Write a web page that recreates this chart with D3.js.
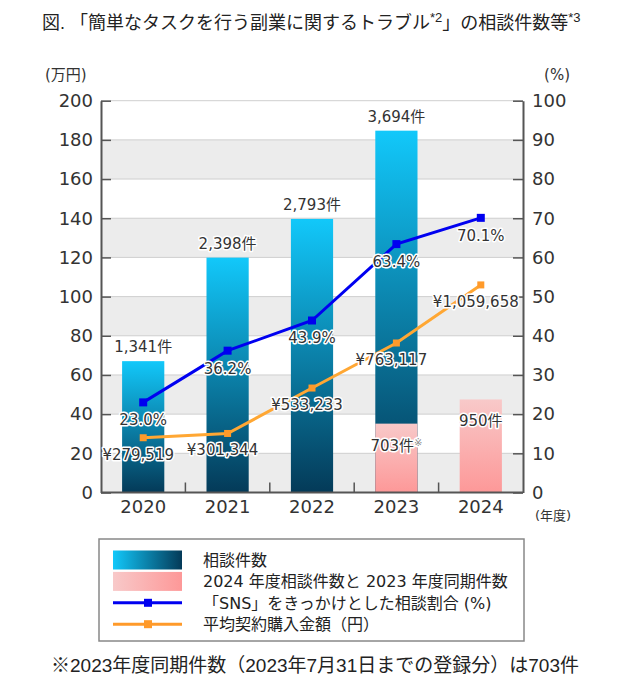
<!DOCTYPE html>
<html>
<head>
<meta charset="utf-8">
<script src="https://d3js.org/d3.v7.min.js"></script>
<style>
  body { margin: 0; background: #fff; }
  text { font-family: "DejaVu Sans", "Noto Sans CJK JP", sans-serif; fill: #333; }
  text.jp { font-family: "Liberation Sans", "Noto Sans CJK JP", sans-serif; fill: #222; }
  .tick text { font-size: 18px; fill: #333; }
  .tick line { stroke: #555; stroke-width: 1.5; }
  path.domain { stroke: #555; stroke-width: 2; }
  text.lbl { font-size: 15px; paint-order: stroke; stroke: #fff; stroke-width: 3px; stroke-linejoin: round; }
  text.leg { font-size: 16px; fill: #222; }
</style>
</head>
<body>
<script>
const width = 630, height = 694;

// data
const years = ["2020", "2021", "2022", "2023", "2024"];
const counts = [1341, 2398, 2793, 3694, null];          // 相談件数
const sameTerm = [null, null, null, 703, 950];          // 2024年度件数と2023年度同期件数
const snsShare = [23.0, 36.2, 43.9, 63.4, 70.1];        // SNS をきっかけとした割合 (%)
const avgAmount = [279519, 301344, 533233, 763117, 1059658]; // 平均契約購入金額 (円)
const leftTicks = [0, 20, 40, 60, 80, 100, 120, 140, 160, 180, 200];
const rightTicks = [0, 10, 20, 30, 40, 50, 60, 70, 80, 90, 100];

const margin = { top: 100.7, right: 107, bottom: 201.5, left: 101 };
const plotB = height - margin.bottom, plotR = width - margin.right;

const svg = d3.select("body").append("svg")
  .attr("width", width).attr("height", height);

const defs = svg.append("defs");
const gBlue = defs.append("linearGradient").attr("id", "gBlue")
  .attr("x1", 0).attr("y1", 0).attr("x2", 0).attr("y2", 1);
gBlue.append("stop").attr("offset", 0).attr("stop-color", "#12c8fa");
gBlue.append("stop").attr("offset", 1).attr("stop-color", "#043a58");
const gPink = defs.append("linearGradient").attr("id", "gPink")
  .attr("x1", 0).attr("y1", 0).attr("x2", 0).attr("y2", 1);
gPink.append("stop").attr("offset", 0).attr("stop-color", "#f8c9c9");
gPink.append("stop").attr("offset", 1).attr("stop-color", "#fd9898");
const gBlueH = defs.append("linearGradient").attr("id", "gBlueH");
gBlueH.append("stop").attr("offset", 0).attr("stop-color", "#12c8fa");
gBlueH.append("stop").attr("offset", 1).attr("stop-color", "#043a58");
const gPinkH = defs.append("linearGradient").attr("id", "gPinkH");
gPinkH.append("stop").attr("offset", 0).attr("stop-color", "#f8c9c9");
gPinkH.append("stop").attr("offset", 1).attr("stop-color", "#fd9898");

// scales
const x = d3.scaleBand().domain(years).range([margin.left, plotR])
  .paddingInner(0.5).paddingOuter(0.25);
const yL = d3.scaleLinear().domain([0, 200]).range([plotB, margin.top]);
const yCount = d3.scaleLinear().domain([0, 4000]).range([plotB, margin.top]);
const yR = d3.scaleLinear().domain([0, 100]).range([plotB, margin.top]);
const cx = d => x(d) + x.bandwidth() / 2;

// title
const title = svg.append("text").attr("class", "jp")
  .attr("x", 42).attr("y", 29).style("font-size", "18px");
title.append("tspan").text("図. 「簡単なタスクを行う副業に関するトラブル");
title.append("tspan").attr("dy", -7).style("font-size", "13px").text("*2");
title.append("tspan").attr("dy", 7).text("」の相談件数等");
title.append("tspan").attr("dy", -7).style("font-size", "13px").text("*3");

svg.append("text").attr("x", 45).attr("y", 80).style("font-size", "15px").text("(万円)");
svg.append("text").attr("x", 570).attr("y", 80).attr("text-anchor", "end")
  .style("font-size", "15px").text("(%)");

// background bands and grid
const bandTicks = leftTicks.filter((t, i) => i % 2 === 0 && t < 200);
svg.append("g").selectAll("rect").data(bandTicks).join("rect")
  .attr("x", margin.left).attr("width", plotR - margin.left)
  .attr("y", d => yL(d + 20)).attr("height", d => yL(d) - yL(d + 20))
  .attr("fill", "#ececec");
svg.append("g").selectAll("line").data(leftTicks.slice(1)).join("line")
  .attr("x1", margin.left).attr("x2", plotR)
  .attr("y1", d => yL(d)).attr("y2", d => yL(d))
  .attr("stroke", "#cfcfcf").attr("stroke-width", 1);

// bars
const rows = years.map((yr, i) => ({
  yr, count: counts[i], same: sameTerm[i], sns: snsShare[i], amt: avgAmount[i]
}));
svg.append("g").selectAll("rect").data(rows.filter(d => d.count != null)).join("rect")
  .attr("x", d => x(d.yr)).attr("width", x.bandwidth())
  .attr("y", d => yCount(d.count)).attr("height", d => plotB - yCount(d.count))
  .attr("fill", "url(#gBlue)");
svg.append("g").selectAll("rect").data(rows.filter(d => d.same != null)).join("rect")
  .attr("x", d => x(d.yr)).attr("width", x.bandwidth())
  .attr("y", d => yCount(d.same)).attr("height", d => plotB - yCount(d.same))
  .attr("fill", "url(#gPink)");

// axes
svg.append("g").attr("transform", `translate(${margin.left},0)`)
  .call(d3.axisLeft(yL).tickValues(leftTicks).tickSize(-10).tickSizeOuter(0).tickPadding(8));
svg.append("g").attr("transform", `translate(${plotR},0)`)
  .call(d3.axisRight(yR).tickValues(rightTicks).tickSize(-10).tickSizeOuter(0).tickPadding(9));
const xAx = svg.append("g").attr("transform", `translate(0,${plotB})`)
  .call(d3.axisBottom(x).tickSize(0).tickPadding(8));
xAx.select(".domain").attr("d", `M${margin.left},0H${plotR}`);
// category separators
svg.append("g").selectAll("line").data(years.slice(1)).join("line")
  .attr("x1", d => x(d) - x.step() * x.paddingInner() / 2)
  .attr("x2", d => x(d) - x.step() * x.paddingInner() / 2)
  .attr("y1", plotB).attr("y2", plotB - 10)
  .attr("stroke", "#555").attr("stroke-width", 1.5);
svg.append("text").attr("x", plotR + 12).attr("y", plotB + 27)
  .style("font-size", "13px").text("(年度)");

// lines
const lineSns = d3.line().x(d => cx(d.yr)).y(d => yR(d.sns));
const lineAmt = d3.line().x(d => cx(d.yr)).y(d => yL(d.amt / 10000));
svg.append("path").datum(rows).attr("d", lineAmt)
  .attr("fill", "none").attr("stroke", "#ffa733").attr("stroke-width", 3);
svg.append("g").selectAll("rect").data(rows).join("rect")
  .attr("x", d => cx(d.yr) - 3.5).attr("y", d => yL(d.amt / 10000) - 3.5)
  .attr("width", 7).attr("height", 7).attr("fill", "#ff9a2a");
svg.append("path").datum(rows).attr("d", lineSns)
  .attr("fill", "none").attr("stroke", "#0000f0").attr("stroke-width", 3);
svg.append("g").selectAll("rect").data(rows).join("rect")
  .attr("x", d => cx(d.yr) - 4).attr("y", d => yR(d.sns) - 4)
  .attr("width", 8).attr("height", 8).attr("fill", "#0000f0");

// labels
const fmt = d3.format(",");
const labels = svg.append("g");
labels.selectAll("text.cnt").data(rows.filter(d => d.count != null)).join("text")
  .attr("class", "lbl cnt").attr("text-anchor", "middle")
  .attr("x", d => cx(d.yr)).attr("y", d => yCount(d.count) - 9)
  .text(d => fmt(d.count) + "件");
labels.selectAll("text.same").data(rows.filter(d => d.same != null)).join("text")
  .attr("class", "lbl same").attr("text-anchor", "middle")
  .attr("x", d => cx(d.yr)).attr("y", d => yCount(d.same) + 27)
  .each(function(d) {
    const t = d3.select(this);
    t.append("tspan").text(fmt(d.same) + "件");
    if (d.yr === "2023")
      t.append("tspan").attr("dy", -5).style("font-size", "10px").style("fill", "#888").text("※");
  });
labels.selectAll("text.sns").data(rows).join("text")
  .attr("class", "lbl sns").attr("text-anchor", "middle")
  .attr("x", d => cx(d.yr)).attr("y", d => yR(d.sns) + 23)
  .text(d => d.sns.toFixed(1) + "%");
labels.selectAll("text.amt").data(rows).join("text")
  .attr("class", "lbl amt").attr("text-anchor", "middle")
  .attr("x", d => cx(d.yr) - 5).attr("y", d => yL(d.amt / 10000) + 22)
  .text(d => "¥" + fmt(d.amt));

// legend
const leg = svg.append("g");
leg.append("rect").attr("x", 99).attr("y", 539).attr("width", 425).attr("height", 102)
  .attr("fill", "#fff").attr("stroke", "#888").attr("stroke-width", 1.5);
const legItems = [
  { type: "bar", fill: "url(#gBlueH)", text: "相談件数" },
  { type: "bar", fill: "url(#gPinkH)", text: "2024 年度相談件数と 2023 年度同期件数" },
  { type: "line", color: "#0000f0", text: "「SNS」をきっかけとした相談割合 (%)" },
  { type: "line", color: "#ff9a2a", text: "平均契約購入金額（円）" }
];
legItems.forEach((d, i) => {
  const yc = 560 + i * 21.4;
  if (d.type === "bar") {
    leg.append("rect").attr("x", 113).attr("y", yc - 9.5).attr("width", 69).attr("height", 19)
      .attr("fill", d.fill);
  } else {
    leg.append("line").attr("x1", 113).attr("x2", 182).attr("y1", yc).attr("y2", yc)
      .attr("stroke", d.color).attr("stroke-width", 3);
    leg.append("rect").attr("x", 144).attr("y", yc - 4).attr("width", 8).attr("height", 8)
      .attr("fill", d.color);
  }
  leg.append("text").attr("class", "leg").attr("x", 203).attr("y", yc + 6).text(d.text);
});

// footnote
svg.append("text").attr("class", "jp").attr("x", width / 2).attr("y", 672)
  .attr("text-anchor", "middle").style("font-size", "19px")
  .text("※2023年度同期件数（2023年7月31日までの登録分）は703件");
</script>
</body>
</html>
